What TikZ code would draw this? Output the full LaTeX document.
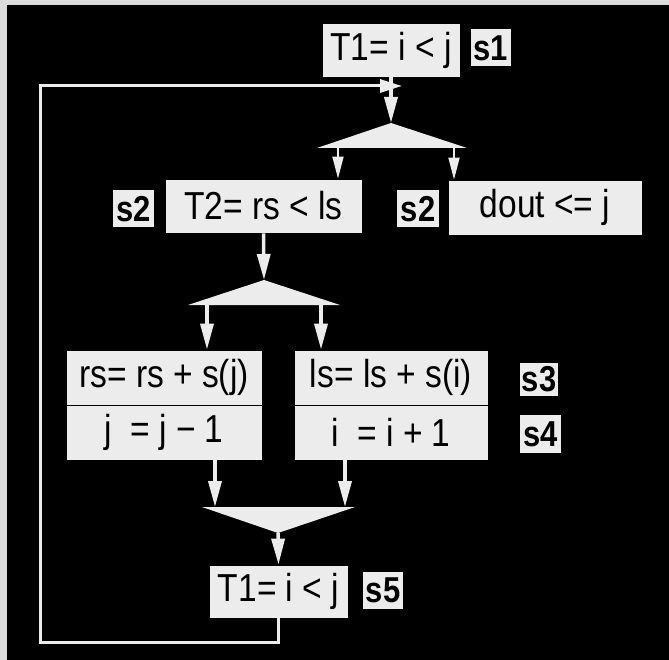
\documentclass[tikz,border=0pt]{standalone}
\usepackage{fontspec}
\setmainfont{Liberation Sans}[FakeStretch=0.86]
\usepackage{xcolor}
\usepackage{tikz}
\usetikzlibrary{arrows.meta,positioning}

\definecolor{paper}{HTML}{ECECEC}
\definecolor{frame}{HTML}{DCDCDC}

\begin{document}
\begin{tikzpicture}[x=1pt, y=-1pt,
    opbox/.style={draw=black, line width=0.8pt, fill=paper, rectangle, inner sep=0pt, minimum height=54pt, font=\fontsize{39}{44}\selectfont},
    tag/.style={fill=paper, rectangle, inner sep=0pt, minimum width=40pt, minimum height=37pt, font=\bfseries\fontsize{36}{40}\selectfont},
    flow/.style={draw=paper, line width=3.5pt, -{Triangle[width=13pt, length=26pt]}},
    thinflow/.style={draw=paper, line width=1.8pt, -{Triangle[width=11pt, length=22pt]}},
    loopline/.style={draw=paper, line width=3pt, -{Triangle[width=13pt, length=22pt]}},
    fork/.style={fill=paper}]

        % Frame and background
        \useasboundingbox (0,0) rectangle (669,660);
        \fill[frame] (-5,-5) rectangle (680,670);
        \fill[black] (7,5) rectangle (680,670);

        % Top test
        \node[opbox, minimum width=138pt] (t1top) at (391,50) {T1= i < j};
        \node[tag] (s1) at (490.5,48) {s1};

        % First fork
        \coordinate (f1top) at (391,123);
        \coordinate (f1l) at (338,148);
        \coordinate (f1r) at (454,148);
        \fill[fork] (f1top) -- (467,148) -- (317,148) -- cycle;

        % Second row
        \node[opbox, minimum width=197pt] (cmp) at (263.5,206) {T2= rs < ls};
        \node[tag, minimum width=41pt] (s2a) at (133.5,209) {s2};
        \node[tag, minimum width=42pt] (s2b) at (418,209) {s2};
        \node[opbox, minimum width=194pt, minimum height=55pt] (dout) at (545,207.5) {dout <= j};

        % Second fork
        \coordinate (f2top) at (264,280);
        \coordinate (f2l) at (207,305);
        \coordinate (f2r) at (321,305);
        \fill[fork] (f2top) -- (340,305) -- (188,305) -- cycle;

        % Branch bodies
        \node[opbox, minimum width=196pt, minimum height=55pt] (rsb) at (164,377.5) {rs= rs + s(j)};
        \node[opbox, minimum width=196pt, minimum height=55pt] (jb) at (164,432.5) {j\ \ = j − 1};
        \node[opbox, minimum width=194pt, minimum height=55pt] (lsb) at (391,377.5) {ls= ls + s(i)};
        \node[opbox, minimum width=194pt, minimum height=55pt] (ib) at (391,432.5) {i\ \ = i + 1};
        \node[tag, minimum width=38pt, minimum height=33pt] (s3) at (539,379) {s3};
        \node[tag, minimum width=41pt, minimum height=38pt] (s4) at (540.5,434) {s4};

        % Join
        \coordinate (j1) at (215,507);
        \coordinate (j2) at (345,507);
        \coordinate (jtip) at (278,533);
        \fill[fork] (202,507) -- (355,507) -- (jtip) -- cycle;

        % Bottom test
        \node[opbox, minimum width=139pt, minimum height=53pt] (t1bot) at (278.5,591.5) {T1= i < j};
        \node[tag] (s5) at (383,590) {s5};

        % Loop back
        \coordinate (lp1) at (40,642);
        \coordinate (lp2) at (40,86);
        \coordinate (lpend) at (402,86);
        \draw[loopline] (t1bot.south) |- (lp1) -- (lp2) -- (lpend);

        % Arrows
        \draw[flow] (t1top.south) -- (f1top);
        \draw[thinflow] (f1l) -- (f1l |- cmp.north);
        \draw[thinflow] (f1r) -- (f1r |- dout.north);
        \draw[flow] (cmp.south) -- (f2top);
        \draw[flow] (f2l) -- (f2l |- rsb.north);
        \draw[flow] (f2r) -- (f2r |- lsb.north);
        \draw[flow] (j1 |- jb.south) -- (j1);
        \draw[flow] (j2 |- ib.south) -- (j2);
        \draw[flow] (jtip) -- (t1bot.north);
    \end{tikzpicture}
\end{document}
